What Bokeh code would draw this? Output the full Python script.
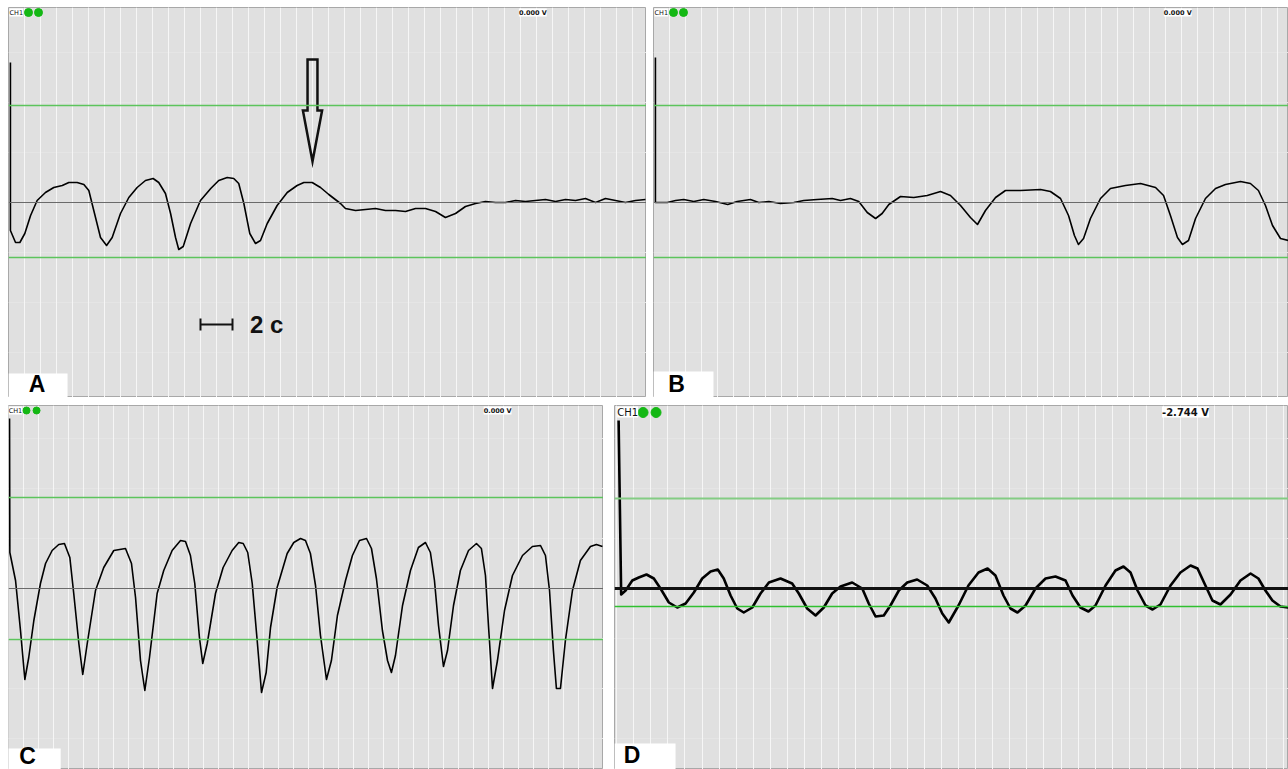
from bokeh.plotting import figure
from bokeh.models import Range1d, Grid, FixedTicker, Span, Label, BoxAnnotation, Spacer
from bokeh.layouts import column, row
from bokeh.embed import file_html
from bokeh.resources import INLINE

# ---------------- data (time in s = grid divisions, amplitude in arbitrary units) ----------------
A_t = [0.12, 0.12, 0.44, 0.71, 1.02, 1.38, 1.79, 2.31, 2.83, 3.36,
       3.77, 4.29, 4.71, 5.02, 5.33, 5.75, 6.13, 6.48, 7.0, 7.52,
       8.04, 8.56, 9.04, 9.39, 9.81, 10.13, 10.44, 10.64, 10.92, 11.38,
       12.0, 12.64, 13.14, 13.67, 14.08, 14.39, 14.71, 15.08, 15.44, 15.75,
       16.17, 16.79, 17.42, 18.04, 18.46, 18.98, 19.5, 20.02, 20.75, 21.06,
       21.69, 22.31, 22.94, 23.56, 24.19, 24.81, 25.44, 26.06, 26.69, 27.31,
       27.94, 28.56, 29.19, 29.81, 30.44, 31.06, 31.69, 32.31, 32.94, 33.56,
       34.19, 34.81, 35.44, 36.06, 36.69, 37.31, 37.94, 38.56, 39.19, 39.81]
A_v = [14.0, -2.8, -4.0, -4.0, -3.1, -1.3, 0.2, 1.0, 1.5, 1.7,
       2.0, 2.0, 1.8, 1.2, -0.8, -3.5, -4.3, -3.5, -1.1, 0.5,
       1.5, 2.2, 2.4, 2.0, 0.9, -1.1, -3.5, -4.7, -4.4, -2.1,
       0.2, 1.4, 2.2, 2.5, 2.4, 1.9, -0.1, -3.1, -4.1, -3.8,
       -2.1, -0.3, 1.0, 1.7, 2.0, 2.0, 1.5, 0.8, -0.1, -0.6,
       -0.8, -0.7, -0.6, -0.8, -0.8, -0.9, -0.6, -0.6, -0.9, -1.5,
       -1.1, -0.4, -0.1, 0.1, 0.0, 0.0, 0.2, 0.1, 0.2, 0.3,
       0.1, 0.3, 0.2, 0.4, 0.0, 0.4, 0.2, 0.0, 0.2, 0.3]

B_t = [0.12, 0.12, 0.19, 0.86, 1.38, 1.89, 2.52, 3.14, 3.88, 4.64,
       5.23, 6.06, 6.58, 7.21, 7.94, 8.77, 9.39, 10.23, 11.17, 11.69,
       12.31, 12.83, 13.36, 13.88, 14.29, 14.71, 15.44, 16.27, 17.11, 17.94,
       18.56, 19.19, 19.81, 20.25, 20.75, 21.38, 22.0, 22.94, 24.19, 24.81,
       25.44, 25.94, 26.31, 26.56, 26.88, 27.31, 27.94, 28.56, 29.5, 30.44,
       31.38, 31.88, 32.31, 32.75, 33.06, 33.44, 33.88, 34.5, 35.13, 35.75,
       36.69, 37.31, 37.81, 38.25, 38.69, 39.19, 39.69]
B_v = [14.5, 0.0, 0.0, 0.0, 0.2, 0.3, 0.1, 0.3, 0.1, -0.2,
       0.1, 0.3, 0.0, 0.1, -0.1, 0.0, 0.2, 0.3, 0.4, 0.2,
       0.4, 0.1, -1.0, -1.6, -1.1, -0.2, 0.6, 0.5, 0.7, 1.1,
       0.7, -0.3, -1.5, -2.2, -0.8, 0.5, 1.2, 1.2, 1.3, 1.1,
       0.4, -1.3, -3.3, -4.2, -3.6, -1.6, 0.4, 1.4, 1.7, 1.9,
       1.5, 0.7, -1.3, -3.5, -4.2, -3.8, -1.6, 0.4, 1.4, 1.8,
       2.1, 1.9, 1.2, -0.3, -2.3, -3.6, -3.8]

C_t = [0.09, 0.11, 0.49, 0.82, 1.11, 1.37, 1.71, 2.15, 2.49, 2.93,
       3.37, 3.75, 4.11, 4.37, 4.71, 4.97, 5.27, 5.82, 6.37, 7.04,
       7.82, 8.22, 8.49, 8.82, 9.11, 9.42, 9.93, 10.37, 10.93, 11.49,
       11.82, 12.15, 12.44, 12.75, 12.97, 13.27, 13.82, 14.33, 14.93, 15.37,
       15.67, 15.97, 16.27, 16.6, 16.89, 17.2, 17.49, 17.93, 18.6, 19.04,
       19.49, 19.82, 20.15, 20.49, 20.82, 21.22, 21.55, 21.95, 22.49, 22.95,
       23.42, 23.89, 24.22, 24.55, 24.95, 25.29, 25.55, 25.82, 26.29, 26.82,
       27.35, 27.82, 28.15, 28.42, 28.69, 29.02, 29.29, 29.69, 30.15, 30.69,
       31.22, 31.55, 31.82, 32.02, 32.29, 32.62, 33.09, 33.62, 34.29, 34.95,
       35.49, 35.82, 36.09, 36.35, 36.55, 36.82, 37.15, 37.62, 38.15, 38.82,
       39.22, 39.62]
C_v = [17.0, 3.6, 0.8, -4.2, -9.1, -6.9, -3.2, 0.5, 2.5, 3.8,
       4.4, 4.5, 3.1, -0.5, -5.5, -8.6, -5.5, -0.2, 2.1, 3.8,
       4.0, 2.5, -0.9, -7.2, -10.2, -6.9, -0.5, 1.8, 3.8, 4.8,
       4.7, 3.3, 0.5, -4.9, -7.5, -5.5, -0.5, 2.1, 3.8, 4.6,
       4.5, 3.6, 0.5, -5.2, -10.4, -8.4, -3.9, 0.1, 3.5, 4.6,
       5.0, 4.8, 3.5, 0.3, -4.7, -9.1, -7.2, -2.7, 0.8, 3.3,
       4.8, 5.0, 4.0, 1.0, -4.2, -7.2, -8.4, -6.7, -1.7, 1.8,
       4.1, 4.6, 3.6, 0.8, -3.7, -7.8, -6.2, -1.7, 1.8, 3.8,
       4.5, 4.0, 1.3, -3.7, -10.0, -7.2, -2.2, 1.3, 3.3, 4.2,
       4.3, 3.3, -0.2, -6.2, -10.0, -10.0, -5.2, -0.2, 2.8, 4.2,
       4.4, 4.2]

D_t = [0.12, 0.27, 0.53, 0.92, 1.3, 1.75, 2.18, 2.57, 3.06, 3.55,
       4.04, 4.52, 5.01, 5.5, 5.92, 6.27, 6.67, 7.06, 7.44, 7.94,
       8.42, 8.91, 9.59, 10.27, 10.66, 11.15, 11.64, 12.12, 12.61, 13.1,
       13.78, 14.37, 14.75, 15.15, 15.63, 16.02, 16.51, 17.0, 17.58, 18.17,
       18.65, 19.05, 19.43, 20.0, 20.58, 21.17, 21.7, 22.16, 22.63, 23.04,
       23.45, 23.92, 24.5, 25.09, 25.67, 26.26, 26.67, 27.13, 27.6, 28.01,
       28.6, 29.18, 29.65, 30.06, 30.47, 30.94, 31.35, 31.81, 32.4, 32.98,
       33.57, 33.98, 34.44, 34.85, 35.32, 35.91, 36.49, 37.08, 37.54, 37.95,
       38.36, 38.83, 39.3]
D_v = [16.8, -0.6, -0.2, 0.8, 1.1, 1.4, 1.0, 0.0, -1.4, -1.9,
       -1.5, -0.4, 1.0, 1.7, 1.9, 1.0, -0.7, -2.0, -2.4, -1.9,
       -0.5, 0.6, 1.0, 0.5, -0.5, -2.0, -2.7, -1.9, -0.5, 0.2,
       0.6, 0.0, -1.5, -2.8, -2.7, -1.7, -0.2, 0.6, 0.9, 0.3,
       -1.0, -2.5, -3.4, -1.7, 0.3, 1.6, 2.0, 1.3, -0.7, -2.0,
       -2.4, -1.7, 0.0, 1.0, 1.2, 0.8, -0.7, -1.9, -2.3, -1.7,
       0.3, 1.8, 2.2, 1.6, -0.2, -1.7, -2.1, -1.6, 0.3, 1.6,
       2.3, 2.0, 0.3, -1.2, -1.6, -0.6, 0.8, 1.5, 1.0, -0.2,
       -1.2, -1.8, -1.9]

# reference (cursor) levels per panel: (level, colour, width)
GREEN = "#5cc45c"
A_levels = [(9.7, GREEN, 1.3), (0.0, "#6a6a6a", 1), (-5.5, GREEN, 1.3)]
B_levels = [(9.7, GREEN, 1.3), (0.0, "#6a6a6a", 1), (-5.5, GREEN, 1.3)]
C_levels = [(9.1, GREEN, 1.3), (0.0, "#6a6a6a", 1), (-5.1, GREEN, 1.3)]
D_levels = [(9.0, "#84cc84", 2), (0.0, "#111111", 3), (-1.8, "#30c030", 1.3)]

readouts = {"A": "0.000 V", "B": "0.000 V", "C": "0.000 V", "D": "-2.744 V"}
scale_bar_s = 2.0
scale_text = "2 c"
arrow_t = 19.0

GRID_BG = "#e0e0e0"
DOT = "#14b814"


def make_panel(w, h, xr, yr):
    p = figure(width=w, height=h, x_range=Range1d(*xr), y_range=Range1d(*yr),
               output_backend="svg", toolbar_location=None,
               x_axis_location=None, y_axis_location=None, min_border=0,
               background_fill_color=GRID_BG, border_fill_color="white",
               outline_line_color="#a8a8a8", outline_line_width=1)
    ticks = list(range(int(xr[0]) - 1, int(xr[1]) + 2))
    p.add_layout(Grid(dimension=0, ticker=FixedTicker(ticks=ticks),
                      grid_line_color="#f6f6f6", grid_line_width=1))
    return p


def decorate(p, levels, ch_x, ch_y, ch_size, dots_x, dots_y, dot_size,
             ro_x, ro_text, ro_size, box, letter, letter_xy, letter_size):
    for lv, col, lw in levels:
        p.add_layout(Span(location=lv, dimension="width", line_color=col, line_width=lw))
    p.add_layout(Label(x=ch_x, y=ch_y, text="CH1", text_font="DejaVu Sans",
                       text_font_size=ch_size, text_baseline="top", text_align="left",
                       background_fill_color="white", text_color="#111111"))
    p.scatter(dots_x, [dots_y] * len(dots_x), size=dot_size, color=DOT, line_color=DOT)
    p.add_layout(Label(x=ro_x, y=ch_y, text=ro_text, text_font="DejaVu Sans",
                       text_font_size=ro_size, text_baseline="top", text_align="left",
                       background_fill_color="white", text_color="#111111", text_font_style="bold"))
    l, r, b, t = box
    p.add_layout(BoxAnnotation(left=l, right=r, bottom=b, top=t, fill_color="white",
                               fill_alpha=1.0, line_alpha=0))
    p.add_layout(Label(x=letter_xy[0], y=letter_xy[1], text=letter,
                       text_font="Liberation Sans", text_font_style="bold",
                       text_font_size=letter_size, text_align="center",
                       text_baseline="bottom", text_color="black"))


# ---------------- panel A ----------------
pA = make_panel(638, 390, (0, 39.875), (-19.5, 19.5))
pA.line(A_t, A_v, line_color="black", line_width=1.6, line_join="round")
decorate(pA, A_levels, 0.06, 19.4, "6.5px", [1.25, 1.875], 19.0, 8,
         31.9, readouts["A"], "6.5px", (0, 3.69, -19.6, -17.1), "A", (1.78, -19.45), "23px")
# scale bar 2 s
sb0 = 12.0
pA.segment([sb0], [-12.2], [sb0 + scale_bar_s], [-12.2], line_color="#111111", line_width=2)
pA.segment([sb0, sb0 + scale_bar_s], [-11.6, -11.6], [sb0, sb0 + scale_bar_s], [-12.8, -12.8],
           line_color="#111111", line_width=2)
pA.add_layout(Label(x=15.1, y=-12.2, text=scale_text, text_font="Liberation Sans",
                    text_font_style="bold", text_font_size="24px", text_baseline="middle",
                    text_align="left", text_color="#111111"))
# outlined arrow marking the end of pulsation
ax = [arrow_t - 0.31, arrow_t + 0.31, arrow_t + 0.31, arrow_t + 0.6, arrow_t,
      arrow_t - 0.6, arrow_t - 0.31]
ay = [14.3, 14.3, 9.2, 9.2, 4.1, 9.2, 9.2]
pA.patch(ax, ay, fill_alpha=0, line_color="#111111", line_width=2.5, line_join="miter")

# ---------------- panel B ----------------
pB = make_panel(635, 390, (0, 39.69), (-19.5, 19.5))
pB.line(B_t, B_v, line_color="black", line_width=1.6, line_join="round")
decorate(pB, B_levels, 0.06, 19.4, "6.5px", [1.25, 1.875], 19.0, 8,
         31.9, readouts["B"], "6.5px", (0, 3.75, -19.6, -16.9), "B", (1.44, -19.45), "23px")

# ---------------- panel C ----------------
pC = make_panel(595, 364, (0.02, 39.69), (-18.1, 18.3))
pC.line(C_t, C_v, line_color="black", line_width=1.6, line_join="round")
decorate(pC, C_levels, 0.03, 18.2, "6.5px", [1.22, 1.89], 17.8, 7,
         31.7, readouts["C"], "6.5px", (0, 3.5, -18.2, -16.0), "C", (1.29, -18.05), "23px")

# ---------------- panel D ----------------
pD = make_panel(674, 364, (-0.12, 39.3), (-18.1, 18.3))
pD.line(D_t, D_v, line_color="black", line_width=2.6, line_join="round")
decorate(pD, D_levels, 0.04, 18.2, "10px", [1.55, 2.31], 17.6, 10,
         31.9, readouts["D"], "10px", (-0.12, 3.45, -18.2, -15.5), "D", (0.9, -17.9), "23px")

grid = column(row(pA, pB, spacing=7), row(pC, pD, spacing=11), spacing=8)
layout = column(Spacer(height=7), row(Spacer(width=8), grid))

with open("out.html", "w") as f:
    f.write(file_html(layout, INLINE))
